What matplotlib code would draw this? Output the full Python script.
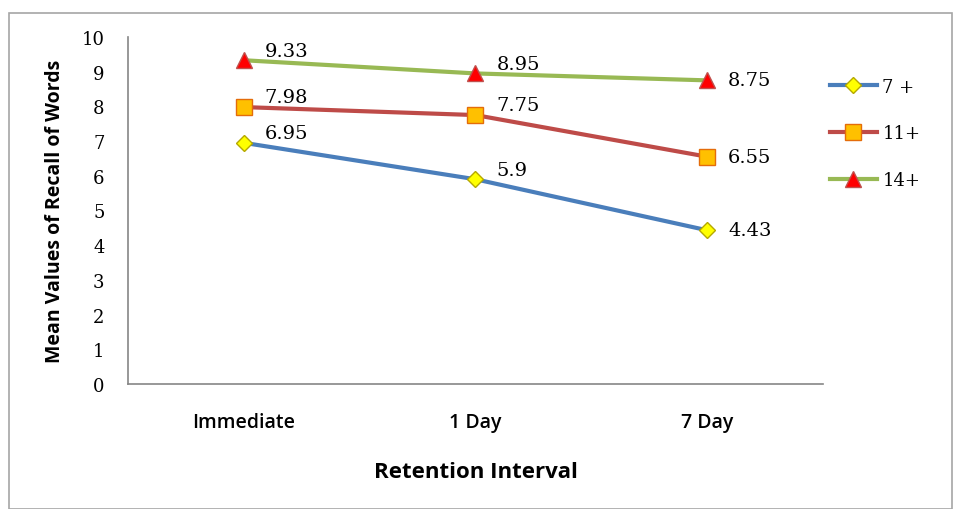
import matplotlib
matplotlib.use("Agg")
import matplotlib.pyplot as plt
from matplotlib.patches import Rectangle

categories = ["Immediate", "1 Day", "7 Day"]
series_names = ["7 +", "11+", "14+"]
values_7 = [6.95, 5.9, 4.43]
values_11 = [7.98, 7.75, 6.55]
values_14 = [9.33, 8.95, 8.75]
label_7 = ["6.95", "5.9", "4.43"]
label_11 = ["7.98", "7.75", "6.55"]
label_14 = ["9.33", "8.95", "8.75"]
y_ticks = [0, 1, 2, 3, 4, 5, 6, 7, 8, 9, 10]

W, H = 954, 510
fig = plt.figure(figsize=(W / 100, H / 100), dpi=100)
fig.patches.append(Rectangle((9 / W, 0), (W - 11) / W, 1 - 14 / H,
                             transform=fig.transFigure, fill=False,
                             edgecolor="#a6a6a6", linewidth=1.2))

ax = fig.add_axes([128 / W, 1 - 385 / H, (823 - 128) / W, (385 - 38) / H])

serif = ["DejaVu Serif"]
sans = ["Open Sans", "DejaVu Sans"]

styles = [
    dict(color="#4A7EBB", marker="D", mfc="#FFFF00", mec="#B5A800", ms=8, mew=1.0),
    dict(color="#BE4B48", marker="s", mfc="#FFC000", mec="#E46C0A", ms=12, mew=1.0),
    dict(color="#98B954", marker="^", mfc="#FF0000", mec="#C0504D", ms=11, mew=1.0),
]
data = [values_7, values_11, values_14]
labels = [label_7, label_11, label_14]
x = list(range(len(categories)))

for name, vals, labs, st in zip(series_names, data, labels, styles):
    ax.plot(x, vals, label=name, linewidth=3, color=st["color"], marker=st["marker"],
            markerfacecolor=st["mfc"], markeredgecolor=st["mec"],
            markersize=st["ms"], markeredgewidth=st["mew"], zorder=3)
    for i, (xi, v, t) in enumerate(zip(x, vals, labs)):
        dy = 7 if i < 2 else 0
        ax.annotate(t, (xi, v), xytext=(15, dy), textcoords="offset points",
                    ha="left", va="center", fontsize=14, family=serif, color="#000000")

ax.set_xlim(-0.5, 2.5)
ax.set_ylim(0, 10)
ax.set_xticks(x)
ax.set_xticklabels(categories, fontsize=14, family=sans, fontweight="semibold")
ax.set_yticks(y_ticks)
ax.set_yticklabels([str(v) for v in y_ticks], fontsize=13, family=serif)
ax.tick_params(axis="both", length=0)
ax.tick_params(axis="y", pad=17)
ax.tick_params(axis="x", pad=20)

for s in ["top", "right"]:
    ax.spines[s].set_visible(False)
for s in ["left", "bottom"]:
    ax.spines[s].set_color("#868686")
    ax.spines[s].set_linewidth(1.2)

ax.set_xlabel("Retention Interval", fontsize=16, family=sans, fontweight="bold", labelpad=21)
ax.set_ylabel("Mean Values of Recall of Words", fontsize=14, family=sans, fontweight="bold", labelpad=12)

leg = fig.legend(loc="center left", bbox_to_anchor=(830 / W, 1 - 134.5 / H),
                 frameon=False, prop={"family": serif, "size": 13},
                 handlelength=2.6, handletextpad=0.3, labelspacing=1.6,
                 borderpad=0, borderaxespad=0)

fig.savefig("out.png", dpi=100)
